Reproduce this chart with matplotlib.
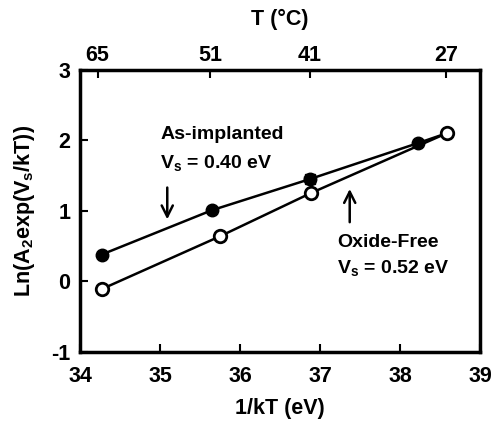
import matplotlib
matplotlib.use("Agg")
import matplotlib.pyplot as plt

plt.rcParams['font.family'] = ['Liberation Sans', 'DejaVu Sans']
plt.rcParams['font.weight'] = 'bold'
plt.rcParams['mathtext.default'] = 'regular'

# data
inv_kT_implanted = [34.27, 35.65, 36.87, 38.22, 38.58]
ln_implanted = [0.38, 1.01, 1.45, 1.96, 2.10]
inv_kT_oxfree = [34.27, 35.75, 36.88, 38.58]
ln_oxfree = [-0.11, 0.64, 1.25, 2.10]

# top axis (temperature in C) tick positions on 1/kT scale
temp_pos = [34.22, 35.63, 36.875, 38.575]
temp_labels = ['65', '51', '41', '27']

fig = plt.figure(figsize=(4.94, 4.26), dpi=100)
ax = fig.add_axes([0.162, 0.174, 0.81, 0.662])

ax.plot(inv_kT_implanted, ln_implanted, '-', color='black', lw=1.8, zorder=2)
ax.plot(inv_kT_implanted[:4], ln_implanted[:4], 'o', color='black', ms=9, zorder=3)
ax.errorbar([inv_kT_implanted[2]], [ln_implanted[2]], yerr=0.05, xerr=0.07,
            fmt='s', color='black', ms=7, capsize=2, lw=1.2, zorder=3)

ax.plot(inv_kT_oxfree, ln_oxfree, '-', color='black', lw=1.8, zorder=2)
ax.plot(inv_kT_oxfree, ln_oxfree, 'o', mfc='white', mec='black', mew=2, ms=9, zorder=4)
ax.errorbar([inv_kT_oxfree[3]], [ln_oxfree[3]], yerr=0.06, xerr=0.05,
            fmt='none', ecolor='black', capsize=2, lw=1.2, zorder=3)

ax.set_xlim(34, 39)
ax.set_ylim(-1, 3)
ax.set_xticks([34, 35, 36, 37, 38, 39])
ax.set_yticks([-1, 0, 1, 2, 3])
ax.set_yticklabels(['-1', '0', '1', '2', '3'])
ax.tick_params(direction='in', length=6, width=1.5, labelsize=15.5, pad=7)
ax.tick_params(axis='x', pad=10)
for s in ax.spines.values():
    s.set_linewidth(2.5)

ax.set_xlabel('1/kT (eV)', fontsize=15.5, fontweight='bold', labelpad=8)
ax.set_ylabel('Ln(A$_2$exp(V$_s$/kT))', fontsize=15.5, fontweight='bold', labelpad=10)

# annotations
ax.text(35.0, 2.08, 'As-implanted', fontsize=14, fontweight='bold', va='center')
ax.text(35.0, 1.68, 'V$_s$ = 0.40 eV', fontsize=14, fontweight='bold', va='center')
ax.text(37.21, 0.55, 'Oxide-Free', fontsize=14, fontweight='bold', va='center')
ax.text(37.21, 0.19, 'V$_s$ = 0.52 eV', fontsize=14, fontweight='bold', va='center')
ax.annotate('', xy=(35.09, 0.84), xytext=(35.09, 1.37),
            arrowprops=dict(arrowstyle='->', color='black', lw=1.8, mutation_scale=20))
ax.annotate('', xy=(37.37, 1.35), xytext=(37.37, 0.80),
            arrowprops=dict(arrowstyle='->', color='black', lw=1.8, mutation_scale=20))

top = ax.twiny()
top.set_xlim(ax.get_xlim())
top.set_xticks(temp_pos)
top.set_xticklabels(temp_labels)
top.tick_params(direction='in', length=6, width=1.5, labelsize=15.5, pad=3)
top.set_xlabel('T (°C)', fontsize=15.5, fontweight='bold', labelpad=14)

fig.savefig('out.png', dpi=100)
